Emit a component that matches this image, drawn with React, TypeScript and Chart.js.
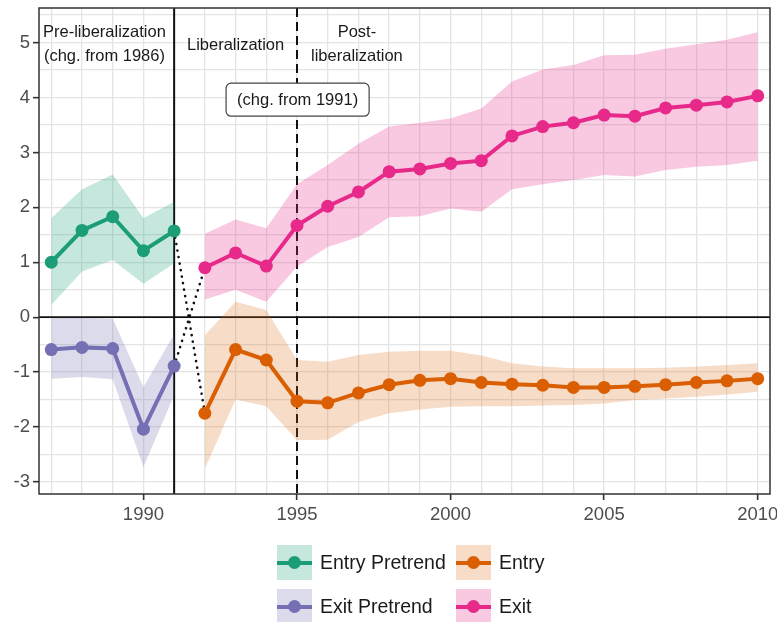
import React, { useEffect, useRef } from 'react';
import { Chart, registerables } from 'chart.js';

Chart.register(...registerables);

// ---------- data ----------
const preYears = [1987, 1988, 1989, 1990, 1991];
const postYears = [1992, 1993, 1994, 1995, 1996, 1997, 1998, 1999, 2000, 2001, 2002, 2003, 2004, 2005, 2006, 2007, 2008, 2009, 2010];

const entryPretrend = [1.0, 1.58, 1.83, 1.21, 1.57];
const entryPretrendLo = [0.22, 0.83, 1.04, 0.61, 0.98];
const entryPretrendHi = [1.8, 2.33, 2.6, 1.8, 2.1];

const exitPretrend = [-0.59, -0.55, -0.57, -2.04, -0.89];
const exitPretrendLo = [-1.12, -1.09, -1.13, -2.73, -1.42];
const exitPretrendHi = [-0.01, -0.01, -0.03, -1.27, -0.31];

const entry = [-1.75, -0.59, -0.78, -1.53, -1.56, -1.38, -1.23, -1.15, -1.12, -1.19, -1.22, -1.24, -1.28, -1.28, -1.26, -1.23, -1.19, -1.16, -1.12];
const entryLo = [-2.76, -1.5, -1.62, -2.24, -2.23, -1.91, -1.75, -1.68, -1.63, -1.62, -1.62, -1.61, -1.6, -1.57, -1.51, -1.48, -1.45, -1.41, -1.36];
const entryHi = [-0.33, 0.28, 0.13, -0.78, -0.81, -0.69, -0.63, -0.61, -0.61, -0.7, -0.84, -0.9, -0.93, -0.93, -0.93, -0.92, -0.9, -0.87, -0.84];

const exit = [0.9, 1.17, 0.93, 1.67, 2.02, 2.28, 2.65, 2.7, 2.8, 2.85, 3.3, 3.47, 3.54, 3.68, 3.66, 3.81, 3.86, 3.92, 4.03];
const exitLo = [0.32, 0.5, 0.28, 0.92, 1.28, 1.46, 1.82, 1.84, 1.98, 1.92, 2.33, 2.42, 2.5, 2.59, 2.56, 2.68, 2.74, 2.77, 2.85];
const exitHi = [1.52, 1.78, 1.62, 2.42, 2.77, 3.16, 3.47, 3.54, 3.62, 3.8, 4.29, 4.51, 4.59, 4.77, 4.78, 4.89, 4.97, 5.05, 5.19];

// axis ticks / grid
const xGridYears = [1987, 1988, 1989, 1990, 1991, 1992, 1993, 1994, 1995, 1996, 1997, 1998, 1999, 2000, 2001, 2002, 2003, 2004, 2005, 2006, 2007, 2008, 2009, 2010];
const xLabelYears = [1990, 1995, 2000, 2005, 2010];
const yGridValues = [-3, -2.5, -2, -1.5, -1, -0.5, 0, 0.5, 1, 1.5, 2, 2.5, 3, 3.5, 4, 4.5, 5, 5.5];
const yLabelValues = [-3, -2, -1, 0, 1, 2, 3, 4, 5];

const liberalizationYear = 1991;
const postLiberalizationYear = 1995;

const phaseLabels = [
  { text: 'Pre-liberalization', x: 1988.73, y: 5.19 },
  { text: '(chg. from 1986)', x: 1988.73, y: 4.75 },
  { text: 'Liberalization', x: 1993.0, y: 4.95 },
  { text: 'Post-', x: 1996.95, y: 5.19 },
  { text: 'liberalization', x: 1996.95, y: 4.74 },
];
const boxedLabel = { text: '(chg. from 1991)', x: 1995.02, y: 3.96 };

const COLORS = {
  entryPre: '#1B9E77',
  exitPre: '#7570B3',
  entry: '#D95F02',
  exit: '#E7298A',
};
const BANDS = {
  entryPre: 'rgba(27,158,119,0.25)',
  exitPre: 'rgba(117,112,179,0.25)',
  entry: 'rgba(217,95,2,0.22)',
  exit: 'rgba(231,41,138,0.25)',
};

const legendRows = [
  [
    { label: 'Entry Pretrend', color: COLORS.entryPre, band: BANDS.entryPre },
    { label: 'Entry', color: COLORS.entry, band: BANDS.entry },
  ],
  [
    { label: 'Exit Pretrend', color: COLORS.exitPre, band: BANDS.exitPre },
    { label: 'Exit', color: COLORS.exit, band: BANDS.exit },
  ],
];

const FONT = '"Liberation Sans", Arial, Helvetica, sans-serif';

const pts = (xs: number[], ys: number[]) => xs.map((x, i) => ({ x, y: ys[i] }));

function bandDatasets(xs: number[], lo: number[], hi: number[], color: string) {
  return [
    {
      data: pts(xs, lo),
      borderWidth: 0,
      borderColor: 'transparent',
      pointRadius: 0,
      fill: false,
      order: 10,
    },
    {
      data: pts(xs, hi),
      borderWidth: 0,
      borderColor: 'transparent',
      backgroundColor: color,
      pointRadius: 0,
      fill: '-1',
      order: 10,
    },
  ];
}

function lineDataset(xs: number[], ys: number[], color: string) {
  return {
    data: pts(xs, ys),
    borderColor: color,
    backgroundColor: color,
    borderWidth: 4,
    pointRadius: 6.5,
    pointBorderWidth: 0,
    pointBackgroundColor: color,
    fill: false,
    order: 0,
  };
}

function dottedDataset(x0: number, y0: number, x1: number, y1: number) {
  return {
    data: [{ x: x0, y: y0 }, { x: x1, y: y1 }],
    borderColor: '#111',
    borderWidth: 2.6,
    borderDash: [0.1, 6.5],
    borderCapStyle: 'round',
    pointRadius: 0,
    fill: false,
    order: 5,
  };
}

const zeroPad = (s: any) => {
  s.paddingLeft = 0;
  s.paddingRight = 0;
  s.paddingTop = 0;
  s.paddingBottom = 0;
};

const refPlugin = {
  id: 'refLines',
  beforeDatasetsDraw(chart: any) {
    const { ctx, chartArea: a, scales } = chart;
    const x = scales.x;
    const y = scales.y;
    ctx.save();
    ctx.strokeStyle = '#111';
    // zero line
    ctx.lineWidth = 1.6;
    const y0 = y.getPixelForValue(0);
    ctx.beginPath();
    ctx.moveTo(a.left, y0);
    ctx.lineTo(a.right, y0);
    ctx.stroke();
    // liberalization solid
    ctx.lineWidth = 2;
    const x1 = x.getPixelForValue(liberalizationYear);
    ctx.beginPath();
    ctx.moveTo(x1, a.top);
    ctx.lineTo(x1, a.bottom);
    ctx.stroke();
    // post-liberalization dashed
    const x2 = x.getPixelForValue(postLiberalizationYear);
    ctx.setLineDash([9, 5]);
    ctx.beginPath();
    ctx.moveTo(x2, a.top);
    ctx.lineTo(x2, a.bottom);
    ctx.stroke();
    ctx.restore();
  },
  afterDatasetsDraw(chart: any) {
    const { ctx, chartArea: a, scales } = chart;
    const x = scales.x;
    const y = scales.y;
    ctx.save();
    ctx.font = `16.5px ${FONT}`;
    ctx.fillStyle = '#1a1a1a';
    ctx.textAlign = 'center';
    ctx.textBaseline = 'middle';
    for (const l of phaseLabels) {
      ctx.fillText(l.text, x.getPixelForValue(l.x), y.getPixelForValue(l.y));
    }
    // boxed label
    const bx = x.getPixelForValue(boxedLabel.x);
    const by = y.getPixelForValue(boxedLabel.y);
    const w = ctx.measureText(boxedLabel.text).width + 22;
    const h = 33;
    const r = 5;
    const lx = bx - w / 2;
    const ty = by - h / 2;
    ctx.beginPath();
    ctx.moveTo(lx + r, ty);
    ctx.lineTo(lx + w - r, ty);
    ctx.arcTo(lx + w, ty, lx + w, ty + r, r);
    ctx.lineTo(lx + w, ty + h - r);
    ctx.arcTo(lx + w, ty + h, lx + w - r, ty + h, r);
    ctx.lineTo(lx + r, ty + h);
    ctx.arcTo(lx, ty + h, lx, ty + h - r, r);
    ctx.lineTo(lx, ty + r);
    ctx.arcTo(lx, ty, lx + r, ty, r);
    ctx.closePath();
    ctx.fillStyle = '#fff';
    ctx.fill();
    ctx.strokeStyle = '#444';
    ctx.lineWidth = 1.2;
    ctx.stroke();
    ctx.fillStyle = '#1a1a1a';
    ctx.fillText(boxedLabel.text, bx, by + 1);
    // panel border
    ctx.strokeStyle = '#333';
    ctx.lineWidth = 1.5;
    ctx.strokeRect(a.left, a.top, a.right - a.left, a.bottom - a.top);
    ctx.restore();
  },
};

export default function App() {
  const canvasRef = useRef<HTMLCanvasElement | null>(null);

  useEffect(() => {
    const canvas = canvasRef.current;
    if (!canvas) return;
    const datasets: any[] = [
      ...bandDatasets(preYears, entryPretrendLo, entryPretrendHi, BANDS.entryPre),
      ...bandDatasets(preYears, exitPretrendLo, exitPretrendHi, BANDS.exitPre),
      ...bandDatasets(postYears, entryLo, entryHi, BANDS.entry),
      ...bandDatasets(postYears, exitLo, exitHi, BANDS.exit),
      dottedDataset(preYears[4], entryPretrend[4], postYears[0], entry[0]),
      dottedDataset(preYears[4], exitPretrend[4], postYears[0], exit[0]),
      lineDataset(preYears, entryPretrend, COLORS.entryPre),
      lineDataset(preYears, exitPretrend, COLORS.exitPre),
      lineDataset(postYears, entry, COLORS.entry),
      lineDataset(postYears, exit, COLORS.exit),
    ];

    const chart = new Chart(canvas, {
      type: 'line',
      data: { datasets },
      plugins: [refPlugin],
      options: {
        animation: false,
        responsive: false,
        devicePixelRatio: 1,
        events: [],
        layout: { autoPadding: false, padding: { top: 8, right: 7, bottom: 98, left: 0 } },
        plugins: { legend: { display: false }, tooltip: { enabled: false } },
        elements: { line: { tension: 0 } },
        scales: {
          x: {
            type: 'linear',
            min: 1986.6,
            max: 2010.4,
            afterFit: (s: any) => { s.height = 30; zeroPad(s); },
            afterBuildTicks: (s: any) => { s.ticks = xGridYears.map((v) => ({ value: v })); },
            border: { display: false },
            grid: {
              color: '#e4e4e4',
              lineWidth: 1.3,
              drawTicks: true,
              tickLength: 6,
              tickWidth: 1.6,
              tickColor: (c: any) => (xLabelYears.includes(c.tick?.value) ? '#333' : 'rgba(0,0,0,0)'),
            },
            ticks: {
              autoSkip: false,
              maxRotation: 0,
              minRotation: 0,
              padding: 4,
              color: '#4d4d4d',
              font: { family: FONT, size: 18.5 },
              callback: (v: any) => (xLabelYears.includes(Number(v)) ? String(v) : ''),
            },
          },
          y: {
            type: 'linear',
            min: -3.22,
            max: 5.63,
            afterFit: (s: any) => { s.width = 39; zeroPad(s); },
            afterBuildTicks: (s: any) => { s.ticks = yGridValues.map((v) => ({ value: v })); },
            border: { display: false },
            grid: {
              color: '#e4e4e4',
              lineWidth: 1.3,
              drawTicks: true,
              tickLength: 6,
              tickWidth: 1.6,
              tickColor: (c: any) => (yLabelValues.includes(c.tick?.value) ? '#333' : 'rgba(0,0,0,0)'),
            },
            ticks: {
              autoSkip: false,
              padding: 3,
              color: '#4d4d4d',
              font: { family: FONT, size: 18.5 },
              callback: (v: any) => (yLabelValues.includes(Number(v)) ? String(v) : ''),
            },
          },
        },
      } as any,
    });
    return () => chart.destroy();
  }, []);

  return (
    <div style={{ position: 'absolute', left: 0, top: 0, width: 777, height: 622, background: '#fff', overflow: 'hidden' }}>
      <canvas ref={canvasRef} width={777} height={622} style={{ display: 'block', width: 777, height: 622 }} />
      {legendRows.map((row, ri) =>
        row.map((item, ci) => (
          <div
            key={`${ri}-${ci}`}
            style={{
              position: 'absolute',
              left: ci === 0 ? 277 : 456,
              top: 545 + ri * 44,
              height: 35,
              display: 'flex',
              alignItems: 'center',
              fontFamily: FONT,
              fontSize: 19.5,
              color: '#1a1a1a',
              whiteSpace: 'nowrap',
            }}
          >
            <div style={{ position: 'relative', width: 35, height: 35, background: item.band, flex: '0 0 auto' }}>
              <div style={{ position: 'absolute', left: 0, right: 0, top: 15.5, height: 4, background: item.color }} />
              <div style={{ position: 'absolute', left: 11, top: 11, width: 13, height: 13, borderRadius: '50%', background: item.color }} />
            </div>
            <span style={{ marginLeft: 8 }}>{item.label}</span>
          </div>
        ))
      )}
    </div>
  );
}
